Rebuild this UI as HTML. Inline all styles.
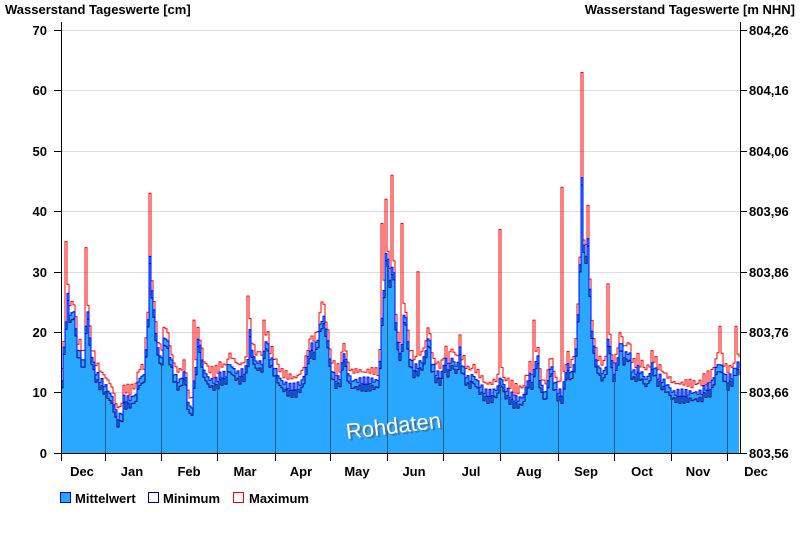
<!DOCTYPE html>
<html><head><meta charset="utf-8"><style>
body{margin:0;background:#fff;width:800px;height:550px;overflow:hidden}
svg text{font-family:"Liberation Sans",Arial,sans-serif;font-weight:bold;font-size:13px;fill:#000}
</style></head><body>
<svg id="s" width="800" height="550" xmlns="http://www.w3.org/2000/svg">
<g stroke="#ddd" stroke-width="1">
<line x1="61" x2="740" y1="30.5" y2="30.5"/><line x1="61" x2="740" y1="90.5" y2="90.5"/><line x1="61" x2="740" y1="151.5" y2="151.5"/><line x1="61" x2="740" y1="211.5" y2="211.5"/><line x1="61" x2="740" y1="272.5" y2="272.5"/><line x1="61" x2="740" y1="332.5" y2="332.5"/><line x1="61" x2="740" y1="392.5" y2="392.5"/>
</g>
<path id="fill" fill="#2aa8ff"/>
<path id="mx" fill="none" stroke="#ff0000" stroke-width="1"/>
<path id="mn" fill="none" stroke="#000080" stroke-width="1"/>
<path id="me" fill="none" stroke="#0000ff" stroke-width="1"/>
<g id="seps" stroke="#1e5a80" stroke-width="1"></g>
<g stroke="#000" stroke-width="1">
<line x1="61.5" y1="22" x2="61.5" y2="453"/><line x1="740.5" y1="22" x2="740.5" y2="453"/>
<line x1="54" y1="453.5" x2="740" y2="453.5"/>
</g>
<g id="ticks" stroke="#000"></g>
<text x="5" y="14">Wasserstand Tageswerte [cm]</text>
<text x="795" y="14" text-anchor="end">Wasserstand Tageswerte [m NHN]</text>
<g text-anchor="end">
<text x="47" y="35">70</text><text x="47" y="95">60</text><text x="47" y="156">50</text><text x="47" y="216">40</text><text x="47" y="277">30</text><text x="47" y="337">20</text><text x="47" y="397">10</text><text x="47" y="458">0</text>
</g>
<g>
<text x="749" y="35">804,26</text><text x="749" y="95">804,16</text><text x="749" y="156">804,06</text><text x="749" y="216">803,96</text><text x="749" y="277">803,86</text><text x="749" y="337">803,76</text><text x="749" y="397">803,66</text><text x="749" y="458">803,56</text>
</g>
<g text-anchor="middle">
<text x="82" y="476">Dec</text><text x="132" y="476">Jan</text><text x="189" y="476">Feb</text><text x="245" y="476">Mar</text><text x="301" y="476">Apr</text><text x="357" y="476">May</text><text x="414" y="476">Jun</text><text x="471" y="476">Jul</text><text x="529" y="476">Aug</text><text x="586" y="476">Sep</text><text x="642" y="476">Oct</text><text x="698" y="476">Nov</text><text x="756" y="476">Dec</text>
</g>
<rect x="60.5" y="492.5" width="10" height="10" fill="#2aa8ff" stroke="#0000ff"/>
<text x="75" y="503">Mittelwert</text>
<rect x="148.5" y="492.5" width="10" height="10" fill="#fff" stroke="#000080"/>
<text x="163" y="503">Minimum</text>
<rect x="233.5" y="492.5" width="10" height="10" style="fill:#fff;stroke:#ff0000"/>
<text x="249" y="503">Maximum</text>
<text x="349" y="441" fill="#555" transform="rotate(-7 348 440)" style="font-size:22px;font-weight:normal;fill:#555;opacity:0.6">Rohdaten</text>
<text x="347" y="439" transform="rotate(-7 348 440)" style="font-size:22px;font-weight:normal;fill:#fff">Rohdaten</text>
</svg>
<script>
var k=[[61,12],[64,20],[67,26],[70,22],[73,24],[76,18],[80,16],[84,15],[86,27],[88,20],[92,15],[96,13],[100,12],[105,11],[112,9],[116,6],[120,6],[123,9],[130,9],[136,10],[138,13],[142,12],[146,18],[149,32],[152,25],[155,20],[158,16],[161,16],[164,20],[167,18],[172,14],[176,12],[180,12],[184,14],[188,7],[191,8],[194,13],[198,20],[201,15],[205,13],[210,12],[215,12],[220,13],[225,13],[228,15],[232,14],[238,13],[246,14],[249,20],[252,16],[256,15],[262,15],[265,19],[269,16],[274,14],[280,12],[288,11],[295,11],[302,12],[306,15],[310,18],[314,17],[318,20],[322,23],[326,20],[330,14],[336,12],[340,13],[343,17],[346,14],[350,12],[357,12],[365,12],[372,12],[378,12],[381,22],[384,30],[386,35],[389,28],[392,33],[395,22],[398,16],[401,18],[404,25],[407,18],[410,15],[414,14],[420,15],[424,16],[428,20],[431,15],[436,13],[441,13],[444,16],[447,14],[452,16],[455,14],[459,17],[462,14],[468,12],[472,13],[476,12],[480,11],[485,10],[492,10],[497,11],[500,13],[503,11],[508,10],[514,9],[520,9],[524,10],[528,13],[532,12],[536,17],[540,11],[545,10],[550,15],[553,12],[558,10],[562,10],[566,15],[570,13],[574,15],[578,25],[581,45],[584,30],[587,36],[590,22],[594,16],[598,14],[604,13],[608,20],[612,13],[616,15],[620,19],[623,16],[628,17],[632,13],[637,14],[642,13],[646,12],[652,15],[656,13],[662,12],[668,11],[672,10],[680,10],[690,10],[700,10],[705,11],[710,11],[715,14],[718,15],[722,14],[726,12],[732,13],[736,15],[740,14]];
var sp={66:35,86:34,149:43,194:22,248:26,264:22,321:25,381:38,386:42,391:46,402:38,418:30,500:37,534:22,562:44,582:63,588:41,608:28,720:21,736:21};
function v(x){for(var i=1;i<k.length;i++){if(x<=k[i][0]){var a=k[i-1],b=k[i];return a[1]+(b[1]-a[1])*(x-a[0])/(b[0]-a[0]);}}return 14;}
function Y(val){return 453-val*6.04;}
var me=[],mn=[],mx=[];
for(var x=61;x<=740;x+=2){var m=v(x)+Math.sin(x*1.7)*0.6;me.push([x,Y(m)]);mn.push([x,Y(m-1.2)]);var M=m+0.8+Math.abs(Math.sin(x*0.9))*1.2;if(sp[x]!==undefined||sp[x+1]!==undefined)M=Math.max(M,sp[x]||sp[x+1]);mx.push([x,Y(M)]);}
function st(p){var d="M"+p[0][0]+" "+p[0][1];for(var i=1;i<p.length;i++){d+="H"+p[i][0]+"V"+p[i][1].toFixed(1);}return d;}
document.getElementById("me").setAttribute("d",st(me));
document.getElementById("mn").setAttribute("d",st(mn));
document.getElementById("mx").setAttribute("d",st(mx));
document.getElementById("fill").setAttribute("d",st(me)+"V453H61Z");
var xs=[105,161,217,275,330,387,443,500,558,614,671,727],g=document.getElementById("seps"),t=document.getElementById("ticks"),h="",th="";
xs.forEach(function(x){h+='<line x1="'+(x+.5)+'" x2="'+(x+.5)+'" y1="'+Y(v(x)-1)+'" y2="453"/>';th+='<line x1="'+(x+.5)+'" x2="'+(x+.5)+'" y1="453" y2="461"/>';});
th+='<line x1="61.5" x2="61.5" y1="453" y2="461"/>';
[30,90,151,211,272,332,392,453].forEach(function(y){th+='<line x1="54" x2="61" y1="'+(y+.5)+'" y2="'+(y+.5)+'"/><line x1="740" x2="747" y1="'+(y+.5)+'" y2="'+(y+.5)+'"/>';});
g.innerHTML=h;t.innerHTML=th;
</script>
</body></html>
